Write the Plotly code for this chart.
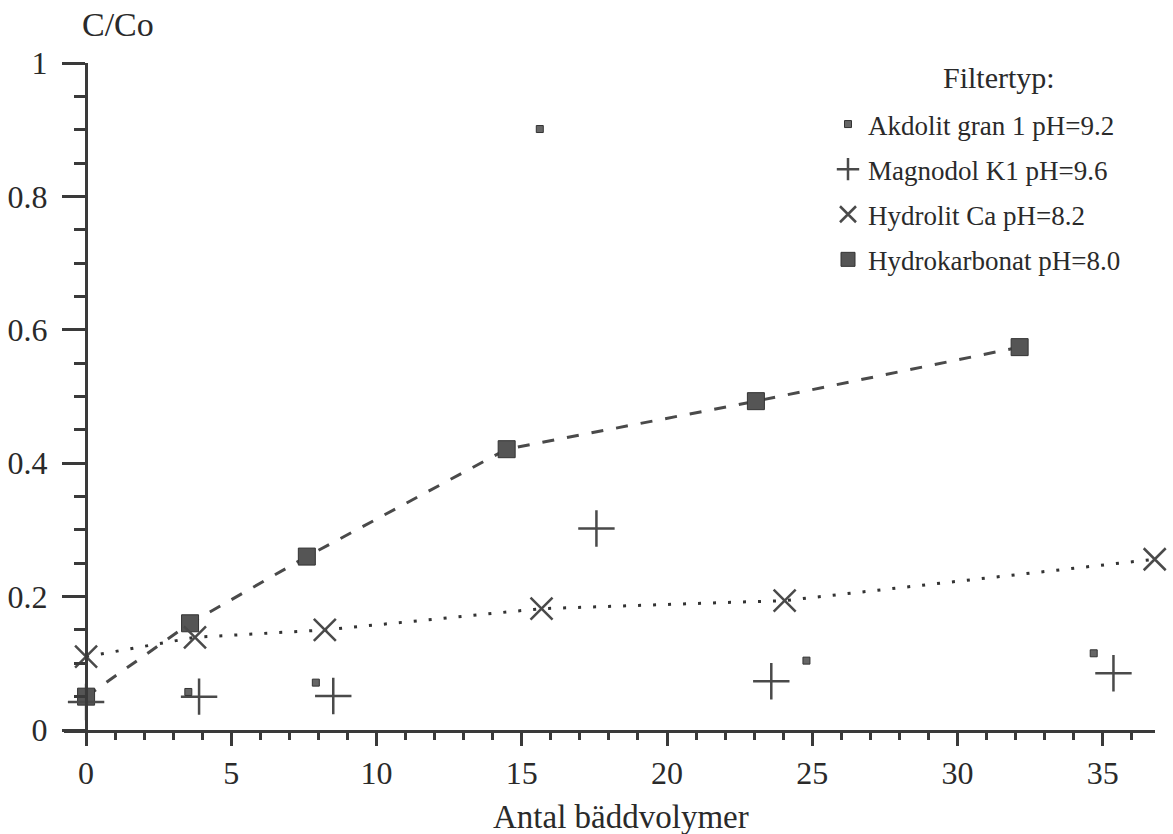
import plotly.graph_objects as go

# ---- data ----
akdolit_x = [3.52, 7.91, 15.62, 24.8, 34.69]
akdolit_y = [0.057, 0.071, 0.901, 0.104, 0.115]

magnodol_x = [0.0, 3.89, 8.51, 17.57, 23.59, 35.37]
magnodol_y = [0.042, 0.050, 0.051, 0.302, 0.073, 0.085]

hydrolit_x = [0.0, 3.75, 8.22, 15.68, 24.05, 36.79]
hydrolit_y = [0.110, 0.139, 0.150, 0.182, 0.194, 0.256]

hydrokarb_x = [0.0, 3.58, 7.6, 14.48, 23.06, 32.14]
hydrokarb_y = [0.050, 0.160, 0.260, 0.421, 0.493, 0.574]

names = ["Akdolit gran 1 pH=9.2", "Magnodol K1 pH=9.6",
         "Hydrolit Ca pH=8.2", "Hydrokarbonat pH=8.0"]

x_major = [0, 5, 10, 15, 20, 25, 30, 35]
y_major = [0, 0.2, 0.4, 0.6, 0.8, 1.0]
y_labels = ["0", "0.2", "0.4", "0.6", "0.8", "1"]

FONT = "Liberation Serif, Times New Roman, serif"
INK = "#2a2a2a"
MK = "#4a4a4a"

fig = go.Figure()

# data traces (no legend)
fig.add_trace(go.Scatter(
    x=hydrokarb_x, y=hydrokarb_y, mode="lines+markers", showlegend=False,
    line=dict(color=MK, width=3, dash="12px,13px"),
    marker=dict(symbol="square", size=17, color="#555555",
                line=dict(color="#333333", width=1)),
    cliponaxis=False))
fig.add_trace(go.Scatter(
    x=hydrolit_x, y=hydrolit_y, mode="lines+markers", showlegend=False,
    line=dict(color="#333333", width=3, dash="3px,12px"),
    marker=dict(symbol="x-thin", size=22, color=MK,
                line=dict(color=MK, width=2.5)),
    cliponaxis=False))
fig.add_trace(go.Scatter(
    x=magnodol_x, y=magnodol_y, mode="markers", showlegend=False,
    marker=dict(symbol="cross-thin", size=26, color=MK,
                line=dict(color=MK, width=2.5)),
    cliponaxis=False))
fig.add_trace(go.Scatter(
    x=akdolit_x, y=akdolit_y, mode="markers", showlegend=False,
    marker=dict(symbol="square", size=7, color="#666666",
                line=dict(color="#333333", width=1)),
    cliponaxis=False))

# legend-only entries (markers only, like the original key)
fig.add_trace(go.Scatter(x=[None], y=[None], mode="markers", name=names[0],
                         legendgroup="a",
                         marker=dict(symbol="square", size=7, color="#666666",
                                     line=dict(color="#333333", width=1))))
fig.add_trace(go.Scatter(x=[None], y=[None], mode="markers", name=names[1],
                         legendgroup="b",
                         marker=dict(symbol="cross-thin", size=16, color=MK,
                                     line=dict(color=MK, width=2.5))))
fig.add_trace(go.Scatter(x=[None], y=[None], mode="markers", name=names[2],
                         legendgroup="c",
                         marker=dict(symbol="x-thin", size=16, color=MK,
                                     line=dict(color=MK, width=2.5))))
fig.add_trace(go.Scatter(x=[None], y=[None], mode="markers", name=names[3],
                         legendgroup="d",
                         marker=dict(symbol="square", size=14, color="#555555",
                                     line=dict(color="#333333", width=1))))

fig.update_layout(
    width=1173, height=834,
    margin=dict(l=64, r=18, t=63, b=104, autoexpand=False),
    paper_bgcolor="white", plot_bgcolor="white",
    font=dict(family=FONT, color=INK, size=30),
    xaxis=dict(
        range=[-0.76, 36.8], showgrid=False, zeroline=False, automargin=False,
        showline=True, linecolor="#3a3a3a", linewidth=3,
        ticks="outside", tickvals=x_major, ticklen=13, tickwidth=2.5,
        tickcolor="#3a3a3a", ticklabelstandoff=0,
        tickfont=dict(family=FONT, size=32, color=INK),
        minor=dict(dtick=1, tick0=0, ticks="outside", ticklen=7,
                   tickwidth=2.5, tickcolor="#3a3a3a"),
    ),
    yaxis=dict(
        range=[0, 1], showgrid=False, zeroline=False, automargin=False,
        anchor="free", position=22 / 1091,
        showline=True, linecolor="#3a3a3a", linewidth=3,
        ticks="outside", tickvals=y_major, ticktext=y_labels,
        ticklen=23, tickwidth=2.5, tickcolor="#3a3a3a", ticklabelstandoff=8,
        tickfont=dict(family=FONT, size=32, color=INK),
        minor=dict(dtick=0.05, tick0=0, ticks="outside", ticklen=11,
                   tickwidth=2.5, tickcolor="#3a3a3a"),
    ),
    legend=dict(
        x=(828 - 64) / 1091, xanchor="left",
        y=(730 - 100) / 667, yanchor="top",
        bgcolor="rgba(0,0,0,0)",
        font=dict(family=FONT, size=27, color=INK),
        tracegroupgap=7, itemsizing="trace",
    ),
    annotations=[
        dict(text="C/Co", xref="paper", yref="paper",
             x=(118 - 64) / 1091, y=(730 - 25) / 667,
             xanchor="center", yanchor="middle", showarrow=False,
             font=dict(family=FONT, size=34, color=INK)),
        dict(text="Filtertyp:", xref="paper", yref="paper",
             x=(999 - 64) / 1091, y=(730 - 78) / 667,
             xanchor="center", yanchor="middle", showarrow=False,
             font=dict(family=FONT, size=30, color=INK)),
        dict(text="Antal bäddvolymer", xref="paper", yref="paper",
             x=(621 - 64) / 1091, y=(730 - 817) / 667,
             xanchor="center", yanchor="middle", showarrow=False,
             font=dict(family=FONT, size=33, color=INK)),
    ],
)

fig.write_html("out.html")
